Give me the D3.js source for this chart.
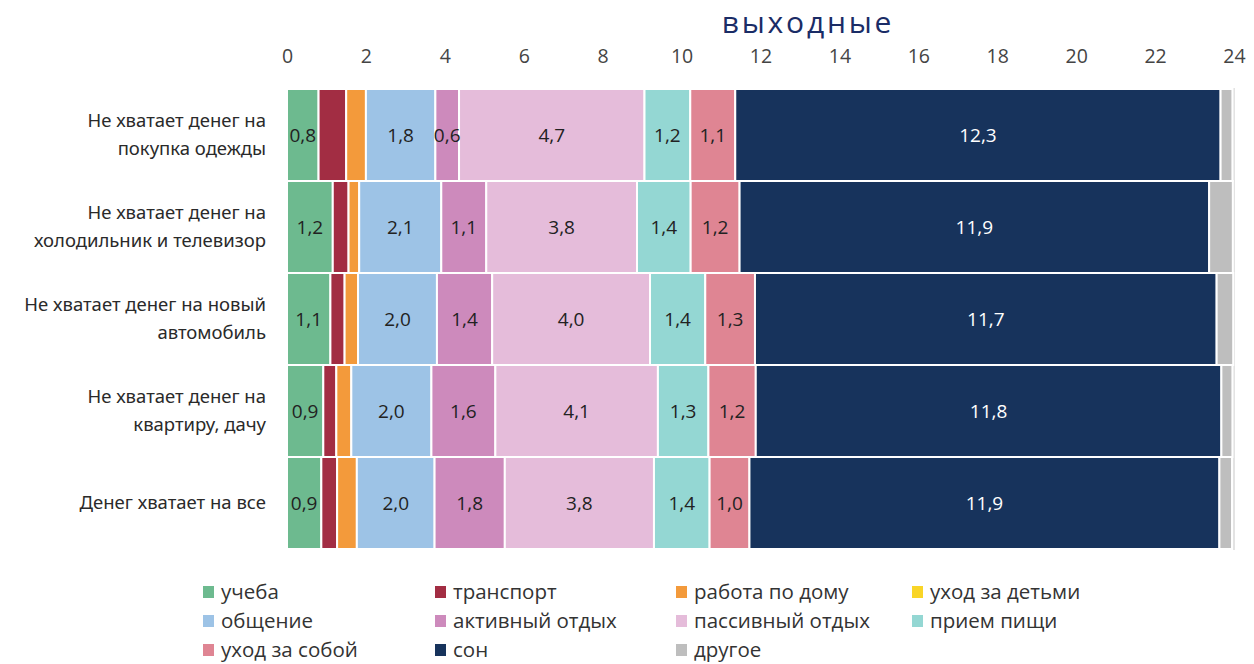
<!DOCTYPE html>
<html>
<head>
<meta charset="utf-8">
<script src="https://cdn.jsdelivr.net/npm/d3@7"></script>
<style>
  body { margin: 0; background: #fff; }
  svg { display: block; font-family: "Open Sans", "Noto Sans", sans-serif; }
</style>
</head>
<body>
<div id="graph-container"></div>
<script>
// Categories (two lines each)
const categories = [
    ["Не хватает денег на", "покупка одежды"],
    ["Не хватает денег на", "холодильник и телевизор"],
    ["Не хватает денег на новый", "автомобиль"],
    ["Не хватает денег на", "квартиру, дачу"],
    ["Денег хватает на все"]
];

const seriesNames = ["учеба", "транспорт", "работа по дому", "уход за детьми", "общение",
    "активный отдых", "пассивный отдых", "прием пищи", "уход за собой", "сон", "другое"];

const seriesColors = ["#6dba8f", "#a22d43", "#f39a3b", "#f9d527", "#9dc3e6",
    "#cd8abc", "#e5bcda", "#94d7d3", "#df8593", "#17335c", "#bebebe"];

// hours per day, one array per series (rows in category order)
const study     = [0.8, 1.16, 1.1, 0.92, 0.87];
const transport = [0.7, 0.4, 0.36, 0.33, 0.4];
const housework = [0.5, 0.27, 0.34, 0.38, 0.5];
const childcare = [0, 0, 0, 0, 0];
const social    = [1.76, 2.08, 2.0, 2.03, 1.97];
const active    = [0.6, 1.14, 1.4, 1.62, 1.78];
const passive   = [4.7, 3.82, 4.0, 4.12, 3.78];
const meals     = [1.16, 1.36, 1.4, 1.28, 1.41];
const selfcare  = [1.14, 1.24, 1.26, 1.2, 1.01];
const sleep     = [12.3, 11.9, 11.7, 11.8, 11.91];
const other     = [0.3, 0.6, 0.42, 0.28, 0.32];

const seriesValues = [study, transport, housework, childcare, social,
    active, passive, meals, selfcare, sleep, other];

// series that carry value labels
const labeled = ["учеба", "общение", "активный отдых", "пассивный отдых", "прием пищи", "уход за собой", "сон"];

const xTicks = d3.range(0, 25, 2);

const width = 1254, height = 664;

const svg = d3.select("#graph-container")
    .append("svg")
        .attr("width", width)
        .attr("height", height);

// Build table for the stack
const table = categories.map((c, i) => {
    const row = { key: i };
    seriesNames.forEach((s, j) => row[s] = seriesValues[j][i]);
    return row;
});

const stacked = d3.stack().keys(seriesNames)(table);

const x = d3.scaleLinear().domain([0, 24]).range([287, 1234]);
const y = d3.scaleBand().domain(d3.range(categories.length)).range([89, 549]).padding(0);
const color = d3.scaleOrdinal().domain(seriesNames).range(seriesColors);

// Title
svg.append("text")
    .attr("x", 808)
    .attr("y", 32.5)
    .attr("text-anchor", "middle")
    .attr("fill", "#1a2c66")
    .style("font-size", "30px")
    .style("letter-spacing", "2.8px")
    .text("выходные");

// Top axis (labels only)
const axis = svg.append("g")
    .attr("transform", "translate(0,63)")
    .call(d3.axisTop(x).tickValues(xTicks).tickSize(0).tickPadding(0));
axis.select(".domain").remove();
axis.selectAll("text")
    .attr("fill", "#444")
    .style("font-size", "19.5px")
    .style("font-family", "'Open Sans', sans-serif");

// Plot background (gives the thin grey frame)
svg.append("rect")
    .attr("x", x(0) - 1)
    .attr("y", y.range()[0] - 1)
    .attr("width", x(24) - x(0) + 2)
    .attr("height", y.range()[1] - y.range()[0] + 2)
    .attr("fill", "#e3e3e3");

// Bars
const layers = svg.append("g")
    .selectAll("g")
    .data(stacked)
    .join("g")
        .attr("fill", d => color(d.key));

layers.selectAll("rect")
    .data(d => d)
    .join("rect")
        .attr("x", d => x(d[0]))
        .attr("y", (d, i) => y(i))
        .attr("width", d => Math.max(0, x(d[1]) - x(d[0])))
        .attr("height", y.bandwidth())
        .attr("stroke", "#fff")
        .attr("stroke-width", 2);

// Value labels
const fmt = v => v.toFixed(1).replace(".", ",");
svg.append("g")
    .selectAll("g")
    .data(stacked.filter(s => labeled.includes(s.key)))
    .join("g")
    .selectAll("text")
    .data(d => d.map((p, i) => ({ p, i, key: d.key })))
    .join("text")
        .attr("x", d => (x(d.p[0]) + x(d.p[1])) / 2)
        .attr("y", d => y(d.i) + y.bandwidth() / 2)
        .attr("dy", "0.35em")
        .attr("text-anchor", "middle")
        .attr("fill", d => d.key === "сон" ? "#fff" : "#222")
        .style("font-size", "19px")
        .text(d => fmt(d.p[1] - d.p[0]));

// Category labels
const cat = svg.append("g")
    .selectAll("text")
    .data(categories)
    .join("text")
        .attr("text-anchor", "end")
        .attr("fill", "#2a2a2a")
        .style("font-size", "18.5px")
        .style("font-family", "'Noto Sans', sans-serif");

cat.each(function(lines, i) {
    const cy = y(i) + y.bandwidth() / 2;
    const lh = 28;
    const start = cy - (lines.length - 1) * lh / 2;
    d3.select(this).selectAll("tspan")
        .data(lines)
        .join("tspan")
            .attr("x", 266)
            .attr("y", (l, k) => start + k * lh)
            .attr("dy", "0.35em")
            .text(l => l);
});

// Legend
const legendX = [203, 435, 676, 912];
const legendY = [592, 621, 650];
const legend = svg.append("g")
    .selectAll("g")
    .data(seriesNames)
    .join("g")
        .attr("transform", (d, i) => `translate(${legendX[i % 4]},${legendY[Math.floor(i / 4)]})`);

legend.append("rect")
    .attr("x", 0)
    .attr("y", -6)
    .attr("width", 11)
    .attr("height", 12)
    .attr("fill", d => color(d));

legend.append("text")
    .attr("x", 18)
    .attr("dy", "0.35em")
    .attr("fill", "#333")
    .style("font-size", "20.5px")
    .text(d => d);
</script>
</body>
</html>
